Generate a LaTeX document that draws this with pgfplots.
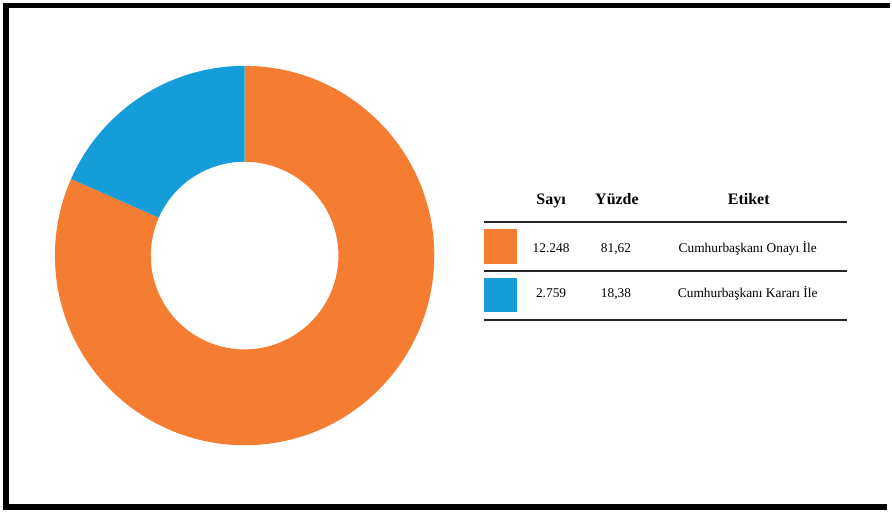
\documentclass[border=0pt]{standalone}
\usepackage{pgfplots}
\pgfplotsset{compat=1.18}
\usepackage{pgfplotstable}
\usepackage{fontspec}
\setmainfont{Liberation Serif}
\definecolor{porange}{RGB}{244,125,50}
\definecolor{pblue}{RGB}{20,157,217}
\pgfplotstableread{
count pct
12248 81.62
2759 18.38
}\piedata
\pgfplotstablegetelem{0}{pct}\of\piedata \let\pctA\pgfplotsretval
\pgfplotstablegetelem{1}{pct}\of\piedata \let\pctB\pgfplotsretval
\pgfmathsetmacro{\angA}{3.6*\pctA}
\pgfmathsetmacro{\angB}{3.6*\pctB}
\pgfmathsetmacro{\endA}{90-\angA}
\begin{document}
\begin{tikzpicture}
\begin{axis}[
  width=446pt, height=254pt, scale only axis,
  xmin=0, xmax=892, ymin=0, ymax=508,
  hide axis, clip=false,
]
% donut (centre 242,255 in px coords; R=190px=95pt, r=94px=47pt)
\coordinate (C) at (axis cs:242,255);
\fill[porange] ([shift={(90:95pt)}]C) arc[start angle=90, delta angle=-\angA, radius=95pt]
   -- ([shift={(\endA:47pt)}]C) arc[start angle=\endA, delta angle=\angA, radius=47pt] -- cycle;
\fill[pblue] ([shift={(90:95pt)}]C) arc[start angle=90, delta angle=\angB, radius=95pt]
   -- ([shift={(90+\angB:47pt)}]C) arc[start angle=90+\angB, delta angle=-\angB, radius=47pt] -- cycle;
% table legend
\tikzset{hd/.style={anchor=base, inner sep=0pt, font=\fontsize{8}{9}\selectfont\bfseries},
         bd/.style={anchor=base, inner sep=0pt, font=\fontsize{6.7}{8}\selectfont}}
\node[hd] at (axis cs:549,306) {Sayı};
\node[hd] at (axis cs:615,306) {Yüzde};
\node[hd] at (axis cs:747,306) {Etiket};
\draw[line width=1pt, black!85] (axis cs:482,289) -- (axis cs:845,289);
\draw[line width=1pt, black!85] (axis cs:482,240) -- (axis cs:845,240);
\draw[line width=1pt, black!85] (axis cs:482,190.5) -- (axis cs:845,190.5);
\fill[porange] (axis cs:482,281.5) rectangle (axis cs:515,246.5);
\fill[pblue] (axis cs:482,233) rectangle (axis cs:515,198);
\node[bd] at (axis cs:549,258) {12.248};
\node[bd] at (axis cs:614,258) {81,62};
\node[bd] at (axis cs:746,258) {Cumhurbaşkanı Onayı İle};
\node[bd] at (axis cs:549,212.5) {2.759};
\node[bd] at (axis cs:614,212.5) {18,38};
\node[bd] at (axis cs:746,212.5) {Cumhurbaşkanı Kararı İle};
% frame
\draw[line width=3pt, black] (axis cs:3.5,0) -- (axis cs:3.5,508);
\draw[line width=2.5pt, black] (axis cs:0,505.5) -- (axis cs:888,505.5);
\draw[line width=3pt, black] (axis cs:0,3) -- (axis cs:885,3);
\end{axis}
\end{tikzpicture}
\end{document}
